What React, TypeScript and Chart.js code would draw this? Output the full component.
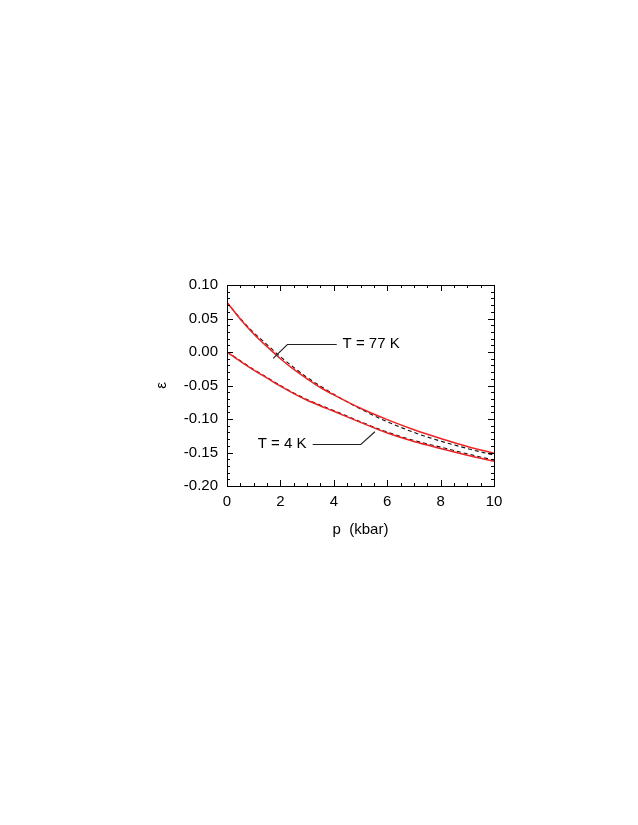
import React, { useEffect, useRef } from "react";
import { Chart, registerables } from "chart.js";
Chart.register(...registerables);

// ---- data ----
const pressure = [0, 0.5, 1, 1.5, 2, 2.5, 3, 3.5, 4, 5, 6, 7, 8, 9, 10];
const eps77Calc = [0.074, 0.049, 0.027, 0.008, -0.010, -0.026, -0.040, -0.053, -0.064, -0.084, -0.101, -0.116, -0.129, -0.141, -0.151];
const eps77Meas = [0.074, 0.050, 0.029, 0.011, -0.007, -0.023, -0.038, -0.051, -0.063, -0.085, -0.104, -0.120, -0.133, -0.144, -0.154];
const eps4Calc = [0.0, -0.014, -0.027, -0.039, -0.051, -0.062, -0.072, -0.0805, -0.0885, -0.105, -0.121, -0.1335, -0.144, -0.154, -0.163];
const eps4Meas = [0.0, -0.013, -0.026, -0.038, -0.050, -0.061, -0.071, -0.0795, -0.0875, -0.104, -0.1195, -0.132, -0.142, -0.152, -0.1615];

const xTickValues = [0, 2, 4, 6, 8, 10];
const yTickValues = [0.1, 0.05, 0, -0.05, -0.1, -0.15, -0.2];
const xMinorStep = 0.5;
const yMinorStep = 0.01;

const labels77 = { text: "T = 77 K", textP: 4.33, textE: 0.012, lineStartP: 4.11, elbowP: 2.26, tipP: 1.73, tipE: -0.0094 };
const labels4 = { text: "T = 4 K", textP: 2.98, textE: -0.1373, lineStartP: 3.21, elbowP: 5.01, tipP: 5.54, tipE: -0.119 };

const FONT = "'Liberation Sans', Arial, Helvetica, sans-serif";

const frameAndTicks = {
  id: "frameAndTicks",
  afterDatasetsDraw(chart: any) {
    const { ctx, chartArea: a, scales } = chart;
    const xs = scales.x;
    const ys = scales.y;
    ctx.save();
    ctx.strokeStyle = "#000";
    ctx.lineWidth = 1;
    ctx.strokeRect(Math.round(a.left) + 0.5, Math.round(a.top) + 0.5, Math.round(a.right - a.left), Math.round(a.bottom - a.top));
    ctx.beginPath();
    for (let v = 0; v <= 10 + 1e-9; v += xMinorStep) {
      const major = xTickValues.some((t) => Math.abs(t - v) < 1e-6);
      const len = major ? 6 : 3;
      const px = Math.round(xs.getPixelForValue(v)) + 0.5;
      ctx.moveTo(px, a.bottom);
      ctx.lineTo(px, a.bottom - len);
      ctx.moveTo(px, a.top);
      ctx.lineTo(px, a.top + len);
    }
    for (let i = 0; i <= 30; i++) {
      const v = -0.2 + i * yMinorStep;
      const major = yTickValues.some((t) => Math.abs(t - v) < 1e-6);
      const len = major ? 6 : 3;
      const py = Math.round(ys.getPixelForValue(v)) + 0.5;
      ctx.moveTo(a.left, py);
      ctx.lineTo(a.left + len, py);
      ctx.moveTo(a.right, py);
      ctx.lineTo(a.right - len, py);
    }
    ctx.stroke();

    ctx.font = `15px ${FONT}`;
    ctx.fillStyle = "#000";
    ctx.textBaseline = "middle";
    ctx.textAlign = "left";
    const l77 = labels77;
    ctx.fillText(l77.text, xs.getPixelForValue(l77.textP), ys.getPixelForValue(l77.textE));
    ctx.textAlign = "right";
    const l4 = labels4;
    ctx.fillText(l4.text, xs.getPixelForValue(l4.textP), ys.getPixelForValue(l4.textE));

    ctx.strokeStyle = "#222";
    ctx.lineWidth = 1.1;
    ctx.beginPath();
    ctx.moveTo(xs.getPixelForValue(l77.lineStartP), Math.round(ys.getPixelForValue(l77.textE)) + 0.5);
    ctx.lineTo(xs.getPixelForValue(l77.elbowP), Math.round(ys.getPixelForValue(l77.textE)) + 0.5);
    ctx.lineTo(xs.getPixelForValue(l77.tipP), ys.getPixelForValue(l77.tipE));
    ctx.moveTo(xs.getPixelForValue(l4.lineStartP), Math.round(ys.getPixelForValue(l4.textE)) + 0.5);
    ctx.lineTo(xs.getPixelForValue(l4.elbowP), Math.round(ys.getPixelForValue(l4.textE)) + 0.5);
    ctx.lineTo(xs.getPixelForValue(l4.tipP), ys.getPixelForValue(l4.tipE));
    ctx.stroke();
    ctx.restore();
  },
};

const pts = (ys: number[]) => pressure.map((p, i) => ({ x: p, y: ys[i] }));

export default function App() {
  const ref = useRef<HTMLCanvasElement | null>(null);
  useEffect(() => {
    if (!ref.current) return;
    const red = "#ee2222";
    const common = { pointRadius: 0, fill: false, cubicInterpolationMode: "monotone" as const };
    const chart = new Chart(ref.current, {
      type: "line",
      data: {
        datasets: [
          { ...common, label: "77K calc", data: pts(eps77Calc), borderColor: red, borderWidth: 1.5, order: 0 },
          { ...common, label: "4K calc", data: pts(eps4Calc), borderColor: red, borderWidth: 1.5, order: 0 },
          { ...common, label: "77K meas", data: pts(eps77Meas), borderColor: "#111", borderWidth: 1.1, borderDash: [4, 3], order: 1 },
          { ...common, label: "4K meas", data: pts(eps4Meas), borderColor: "#111", borderWidth: 1.1, borderDash: [4, 3], order: 1 },
        ],
      },
      options: {
        animation: false,
        responsive: false,
        maintainAspectRatio: false,
        layout: { padding: { left: 147, top: 285, right: 144, bottom: 279 } },
        plugins: { legend: { display: false }, tooltip: { enabled: false } },
        scales: {
          x: {
            type: "linear",
            min: 0,
            max: 10,
            grid: { display: false, drawTicks: false },
            border: { display: false },
            afterBuildTicks: (s: any) => { s.ticks = xTickValues.map((v) => ({ value: v })); },
            afterFit: (s: any) => { s.height = 60; },
            ticks: { color: "#000", font: { size: 15, family: FONT }, padding: 7, maxRotation: 0, callback: (v: any) => String(v) },
            title: { display: true, text: "p  (kbar)", color: "#000", font: { size: 15, family: FONT }, padding: { top: 0, bottom: 7 } },
          },
          y: {
            type: "linear",
            min: -0.2,
            max: 0.1,
            grid: { display: false, drawTicks: false },
            border: { display: false },
            afterBuildTicks: (s: any) => { s.ticks = yTickValues.map((v) => ({ value: v })); },
            afterFit: (s: any) => { s.width = 80; },
            ticks: { color: "#000", font: { size: 15, family: FONT }, padding: 9, callback: (v: any) => Number(v).toFixed(2) },
            title: { display: true, text: "ε", color: "#000", font: { size: 15, family: FONT }, padding: { top: 6, bottom: 0 } },
          },
        },
      },
      plugins: [frameAndTicks],
    });
    return () => chart.destroy();
  }, []);
  return (
    <div style={{ position: "absolute", left: 0, top: 0, width: 638, height: 825 }}>
      <canvas ref={ref} width={638} height={825} style={{ width: 638, height: 825, display: "block" }} />
    </div>
  );
}
